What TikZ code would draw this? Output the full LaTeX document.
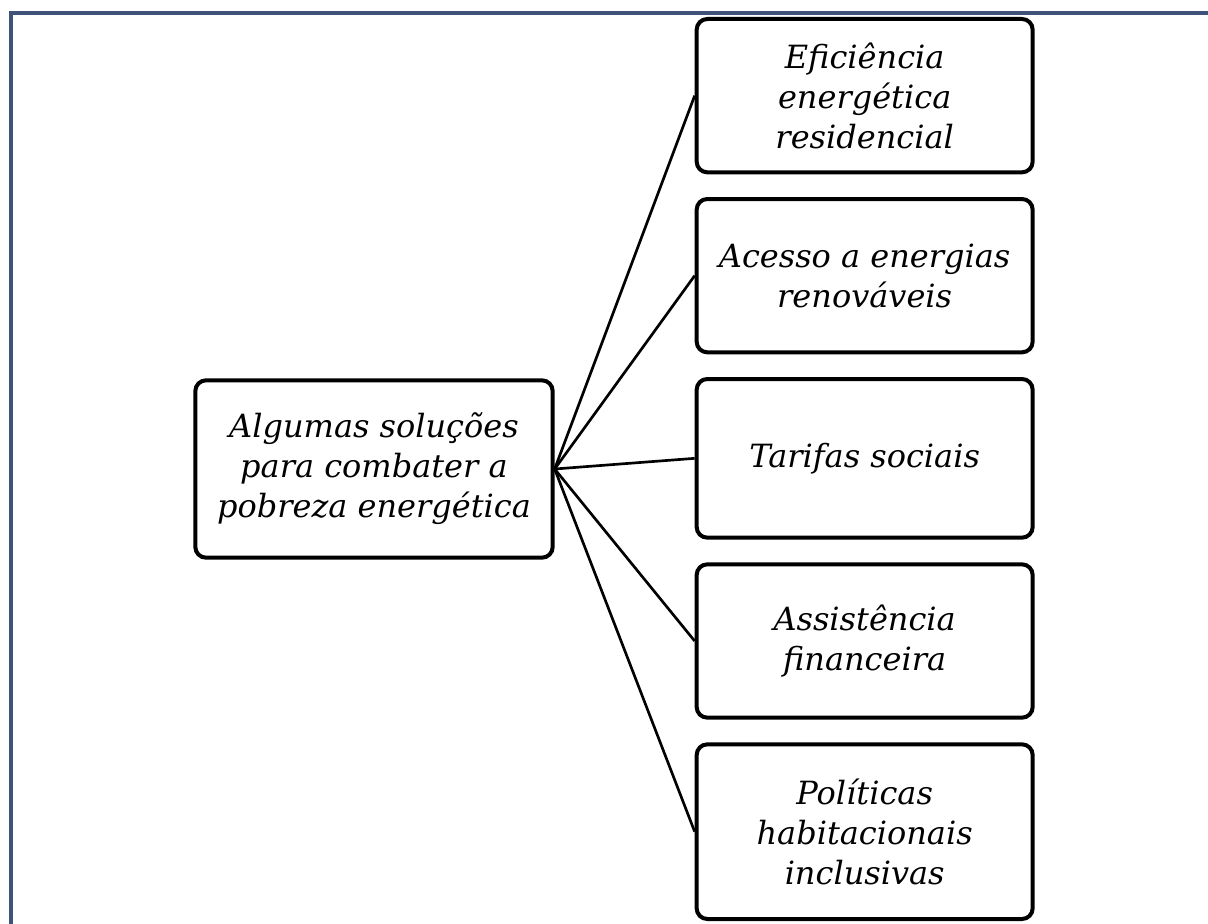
\documentclass[tikz,border=0pt]{standalone}
\usepackage{fontspec}
\setmainfont{DejaVu Serif}
\usepackage{tikz}
\usetikzlibrary{positioning}
\definecolor{framecol}{RGB}{62,82,122}

\begin{document}
\begin{tikzpicture}
	[x=0.75pt,y=-0.75pt,node distance=17pt,
		hub node/.style={draw,line width=3pt,rounded corners=8pt,align=center,
			minimum width=268pt,minimum height=133pt,font=\fontsize{24}{30}\selectfont\itshape},
		leaf node/.style={hub node,minimum width=252pt,minimum height=115pt},
		link/.style={line width=2pt}]

	\useasboundingbox (0,0) rectangle (1208,924);
	% frame of the page
	\draw[framecol,line width=2.3pt] (11,924) -- (11,13) -- (1208,13);

	\node[hub node] (sol) at (374,469) {Algumas soluções\\para combater a\\pobreza energética};
	\node[leaf node,minimum height=119pt] (tar) [right=105pt of sol,yshift=8pt] {Tarifas sociais};
	\node[leaf node] (ren) [above=of tar] {Acesso a energias\\renováveis};
	\node[leaf node] (efi) [above=of ren] {Eficiência\\energética\\residencial};
	\node[leaf node] (fin) [below=of tar] {Assistência\\financeira};
	\node[leaf node,minimum height=131pt] (pol) [below=of fin] {Políticas\\habitacionais\\inclusivas};
	% \node[leaf node] (sub) [below=of pol] {...};

	\path[link]
	(sol.east) edge (efi.west)
	(sol.east) edge (ren.west)
	(sol.east) edge (tar.west)
	(sol.east) edge (fin.west)
	(sol.east) edge (pol.west)
	;

\end{tikzpicture}
\end{document}
